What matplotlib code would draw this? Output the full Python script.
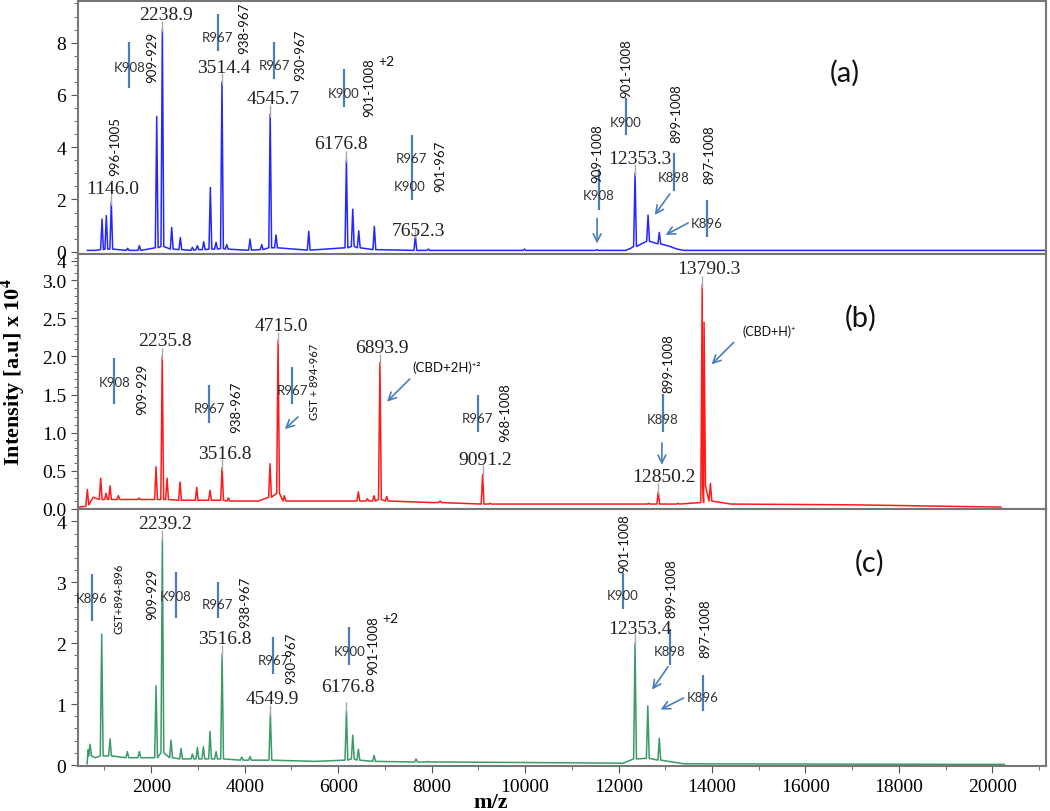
import numpy as np
import matplotlib
matplotlib.use("Agg")
import matplotlib.pyplot as plt
from matplotlib.ticker import MultipleLocator

plt.rcParams['mathtext.fontset'] = 'stix'
SERIF = 'Liberation Serif'
SANS = ['Lato', 'DejaVu Sans']

# ---- spectrum (a): blue ----
a_base_mz = [634, 800, 4000, 8500, 12150, 12250, 13100, 13250, 13400, 21150]
a_base_v = [0.05, 0.05, 0.06, 0.05, 0.05, 0.12, 0.2, 0.1, 0.05, 0.05]
a_pk_mz = [948, 1040, 1146, 1497, 1747, 2118, 2239, 2439, 2624, 2881, 2988, 3124, 3266, 3388,
           3514, 3616, 4115, 4365, 4546, 4671, 5371, 6177, 6313, 6441, 6775, 7652, 7930,
           9987, 11541, 12353, 12632, 12872]
a_pk_h = [1.25, 1.38, 1.89, 0.13, 0.23, 5.17, 8.5, 0.93, 0.54, 0.17, 0.23, 0.38, 2.46, 0.36,
          6.5, 0.27, 0.48, 0.27, 5.27, 0.64, 0.78, 3.52, 1.63, 0.80, 0.97, 0.61, 0.10,
          0.10, 0.08, 3.0, 1.4, 0.74]
a_pk_base = [0.08, 0.1, 0.1, 0.05, 0.05, 0.15, 0.2, 0.1, 0.08, 0.05, 0.08, 0.08, 0.1, 0.1,
             0.12, 0.1, 0.06, 0.08, 0.15, 0.15, 0.06, 0.15, 0.2, 0.15, 0.08, 0.05, 0.05,
             0.05, 0.05, 0.2, 0.4, 0.3]

# ---- spectrum (b): red ----
b_base_mz = [463, 600, 760, 1400, 3000, 4300, 5600, 8000, 10500, 12400, 14400, 17000, 20180]
b_base_v = [0.02, 0.03, 0.15, 0.12, 0.11, 0.1, 0.1, 0.08, 0.06, 0.06, 0.06, 0.05, 0.02]
b_pk_mz = [634, 919, 1034, 1119, 1298, 1740, 2104, 2236, 2339, 2617, 2974, 3259, 3517, 3652,
           4543, 4715, 4849, 6433, 6626, 6769, 6894, 7040, 8181, 9091, 9251, 12643, 12850,
           13272, 13790, 13830, 13966]
b_pk_h = [0.25, 0.40, 0.20, 0.30, 0.17, 0.14, 0.55, 2.0, 0.40, 0.35, 0.28, 0.24, 0.54, 0.14,
          0.59, 2.21, 0.17, 0.22, 0.13, 0.17, 1.92, 0.16, 0.10, 0.45, 0.07, 0.07, 0.22,
          0.07, 2.94, 2.45, 0.33]
b_pk_base = [0.05, 0.12, 0.12, 0.12, 0.12, 0.12, 0.12, 0.12, 0.12, 0.11, 0.11, 0.11, 0.11, 0.1,
             0.15, 0.2, 0.1, 0.1, 0.1, 0.1, 0.12, 0.1, 0.08, 0.06, 0.06, 0.06, 0.06,
             0.06, 0.08, 0.3, 0.1]

# ---- spectrum (c): green ----
c_base_mz = [628, 650, 800, 4000, 5500, 8200, 12100, 13400, 20255]
c_base_v = [0.02, 0.25, 0.12, 0.08, 0.06, 0.05, 0.03, 0.02, 0.01]
c_pk_mz = [691, 941, 1119, 1490, 1747, 2104, 2239, 2425, 2639, 2881, 2988, 3116, 3259, 3388,
           3517, 3937, 4115, 4550, 6177, 6313, 6433, 6769, 7668, 7930, 12353, 12626, 12872]
c_pk_h = [0.34, 2.15, 0.43, 0.22, 0.22, 1.30, 3.71, 0.41, 0.27, 0.18, 0.29, 0.30, 0.55, 0.22,
          1.82, 0.13, 0.14, 0.84, 0.89, 0.49, 0.26, 0.16, 0.10, 0.06, 2.0, 0.97, 0.44]
c_pk_base = [0.15, 0.15, 0.15, 0.12, 0.12, 0.12, 0.2, 0.12, 0.1, 0.1, 0.1, 0.1, 0.1, 0.1,
             0.1, 0.08, 0.08, 0.08, 0.08, 0.1, 0.08, 0.06, 0.05, 0.05, 0.1, 0.11, 0.08]

# labelled peaks: (m/z, label text, label x, label y)
a_labels = [(1146, "1146.0", 1168, 2.40), (2239, "2238.9", 2311, 9.09), (3514, "3514.4", 3559, 7.06),
            (4546, "4545.7", 4601, 5.87), (6177, "6176.8", 6056, 4.16), (7652, "7652.3", 7717, 0.83),
            (12353, "12353.3", 12455, 3.55)]
b_labels = [(2236, "2235.8", 2296, 2.21), (3517, "3516.8", 3565, 0.73), (4715, "4715.0", 4793, 2.41),
            (6894, "6893.9", 6933, 2.12), (9091, "9091.2", 9144, 0.65), (12850, "12850.2", 12968, 0.42),
            (13790, "13790.3", 13925, 3.15)]
c_labels = [(2239, "2239.2", 2296, 3.96), (3517, "3516.8", 3580, 2.07), (4550, "4549.9", 4601, 1.10),
            (6177, "6176.8", 6219, 1.29), (12353, "12353.4", 12455, 2.24)]

# cleavage-site markers: (label, x, bar y0, bar y1, text y)
a_sites = [("K908", 1532, 6.25, 8.04, 7.06), ("R967", 3424, 7.67, 9.10, 8.23), ("R967", 4629, 6.61, 8.04, 7.15),
           ("K900", 6127, 5.53, 6.99, 6.06), ("R967", 7575, 1.98, 4.47, 3.57), ("K908", 11582, 1.61, 3.16, 2.17),
           ("K900", 12153, 4.47, 5.87, 4.98), ("K898", 13182, 2.33, 3.78, 2.87), ("K896", 13893, 0.55, 1.98, 1.10)]
b_sites = [("K908", 1211, 1.38, 1.98, 1.66), ("R967", 3238, 1.13, 1.62, 1.32), ("R967", 5014, 1.37, 1.86, 1.56),
           ("R967", 8983, 1.01, 1.50, 1.19), ("K898", 12953, 1.01, 1.51, 1.18)]
c_sites = [("K896", 728, 2.37, 3.14, 2.74), ("K908", 2532, 2.41, 3.17, 2.78), ("R967", 3424, 2.41, 3.01, 2.64),
           ("R967", 4614, 1.49, 2.11, 1.72), ("K900", 6240, 1.65, 2.26, 1.88), ("K900", 12086, 2.56, 3.16, 2.80),
           ("K898", 13092, 1.65, 2.24, 1.88), ("K896", 13803, 0.89, 1.48, 1.11)]

# fragment ranges (rotated text): (text, x, y)
a_ranges = [("996-1005", 1226, 4.06), ("909-929", 2012, 7.47), ("938-967", 3993, 8.59), ("930-967", 5185, 7.57),
            ("901-1008", 6668, 6.32), ("901-967", 8181, 3.29), ("909-1008", 11541, 3.80),
            ("901-1008", 12168, 7.03), ("899-1008", 13231, 5.32), ("897-1008", 13948, 3.74)]
b_ranges = [("909-929", 1819, 1.58), ("938-967", 3816, 1.34), ("GST + 894-967", 5485, 1.68),
            ("968-1008", 9578, 1.28), ("899-1008", 13067, 1.92)]
c_ranges = [("GST+894-896", 1312, 2.75), ("909-929", 2012, 2.82), ("938-967", 4008, 2.68), ("930-967", 4993, 1.76),
            ("901-1008", 6754, 1.97), ("901-1008", 12112, 3.66), ("899-1008", 13133, 2.92), ("897-1008", 13852, 2.25)]

# arrows: (x_from, y_from, x_to, y_to)
a_arrows = [(11541, 1.38, 11541, 0.21), (13133, 2.30, 12739, 1.32), (13542, 1.15, 12953, 0.59)]
b_arrows = [(5185, 1.23, 4815, 1.02), (7575, 1.73, 7004, 1.38), (12928, 0.90, 12928, 0.54), (14505, 2.21, 13948, 1.87)]
c_arrows = [(13092, 1.65, 12684, 1.20), (13443, 1.12, 12846, 0.89)]

XMIN, XMAX = 434, 21149
HW = 30
BAR = '#4a7ebb'


def trace(base_mz, base_v, pk_mz, pk_h, pk_base):
    pts = list(zip(base_mz, base_v))
    for m, h, b in zip(pk_mz, pk_h, pk_base):
        pts += [(m - HW, b), (m, h), (m + HW, b)]
    pts.sort()
    return np.array(pts).T


fig = plt.figure(figsize=(10.5, 8.12), dpi=100)
ax_a = fig.add_axes([0.0743, 0.68596, 0.922, 0.31158])
ax_b = fig.add_axes([0.0743, 0.37192, 0.922, 0.31404])
ax_c = fig.add_axes([0.0743, 0.05542, 0.922, 0.3165])

panels = [
    (ax_a, (a_base_mz, a_base_v, a_pk_mz, a_pk_h, a_pk_base), '#2626ff', (-0.088, 9.595),
     a_labels, a_sites, a_ranges, a_arrows, '(a)', 16848, 6.87),
    (ax_b, (b_base_mz, b_base_v, b_pk_mz, b_pk_h, b_pk_base), '#ff1a1a', (-0.005, 3.347),
     b_labels, b_sites, b_ranges, b_arrows, '(b)', 17176, 2.52),
    (ax_c, (c_base_mz, c_base_v, c_pk_mz, c_pk_h, c_pk_base), '#3a9a68', (-0.016, 4.204),
     c_labels, c_sites, c_ranges, c_arrows, '(c)', 17378, 3.33),
]

for ax, spec, col, ylim, labels, sites, ranges, arrows, tag, tag_x, tag_y in panels:
    x, y = trace(*spec)
    ax.plot(x, y, color=col, lw=1.1)
    ax.set_xlim(XMIN, XMAX)
    ax.set_ylim(*ylim)
    span = ylim[1] - ylim[0]
    pk = dict(zip(spec[2], spec[3]))
    for m, txt, tx, ty in labels:
        ax.vlines(m, pk[m] - 0.01 * span, pk[m] + 0.035 * span, color='#aaaaaa', lw=1)
        ax.text(tx, ty, txt, family=SERIF, fontsize=14, ha='center', va='center', color='#222222')
    for txt, mx, y0, y1, ty in sites:
        ax.vlines(mx, y0, y1, color=BAR, lw=1.6)
        ax.text(mx, ty, txt, family=SANS, fontsize=9.5, ha='center', va='center', color='#333333')
    for txt, mx, ty in ranges:
        fs = 8 if txt.startswith('GST') else 9.5
        ax.text(mx, ty, txt, family=SANS, fontsize=fs, ha='center', va='center', rotation=90,
                color='#111111')
    for x0, y0, x1, y1 in arrows:
        ax.annotate('', xy=(x1, y1), xytext=(x0, y0),
                    arrowprops=dict(arrowstyle='->', color=BAR, lw=1.2, mutation_scale=14))
    ax.text(tag_x, tag_y, tag, family=SANS, fontsize=21, ha='center', va='center', color='#111111')
    for s in ax.spines.values():
        s.set_color('#777777')
        s.set_linewidth(1.5)
    ax.tick_params(axis='both', which='both', direction='out', colors='#555555',
                   labelcolor='black', labelsize=14)
    ax.tick_params(which='major', length=5)
    ax.tick_params(which='minor', length=3)
    ax.tick_params(axis='x', which='both', bottom=False, labelbottom=False)

# extra annotations
ax_a.text(7524, 2.53, "K900", family=SANS, fontsize=9.5, ha='center', va='center', color='#333333')
ax_a.text(7026, 7.31, "+2", family=SANS, fontsize=10, ha='center', va='center', color='#111111')
ax_c.text(7126, 2.41, "+2", family=SANS, fontsize=10, ha='center', va='center', color='#111111')
ax_b.text(7581, 1.87, "(CBD+2H)⁺²", family=SANS, fontsize=9.5, ha='left', va='center', color='#111111')
ax_b.text(14644, 2.34, "(CBD+H)⁺", family=SANS, fontsize=9, ha='left', va='center', color='#111111')

# y ticks
ax_a.set_yticks([0, 2, 4, 6, 8])
ax_a.yaxis.set_minor_locator(MultipleLocator(0.5))
ax_b.set_yticks([0, 0.5, 1.0, 1.5, 2.0, 2.5, 3.0, 3.26])
ax_b.set_yticklabels(['0.0', '0.5', '1.0', '1.5', '2.0', '2.5', '3.0', '4'])
ax_b.yaxis.set_minor_locator(MultipleLocator(0.1))
ax_c.set_yticks([0, 1, 2, 3, 4])
ax_c.yaxis.set_minor_locator(MultipleLocator(0.2))
for ax in (ax_a, ax_b, ax_c):
    for lab in ax.get_yticklabels():
        lab.set_family(SERIF)

# x axis only on bottom panel
ax_c.tick_params(axis='x', which='both', bottom=True, labelbottom=True)
ax_c.set_xticks(range(2000, 20001, 2000))
ax_c.xaxis.set_minor_locator(MultipleLocator(1000))
for lab in ax_c.get_xticklabels():
    lab.set_family(SERIF)

fig.text(0.4675, 0.011, 'm/z', family=SERIF, fontsize=16, fontweight='bold', ha='center', va='center')
fig.text(0.0127, 0.542, r'Intensity [a.u] x 10$^{\mathbf{4}}$', family=SERIF, fontsize=16,
         fontweight='bold', rotation=90, ha='center', va='center')

fig.savefig('out.png', dpi=100)
